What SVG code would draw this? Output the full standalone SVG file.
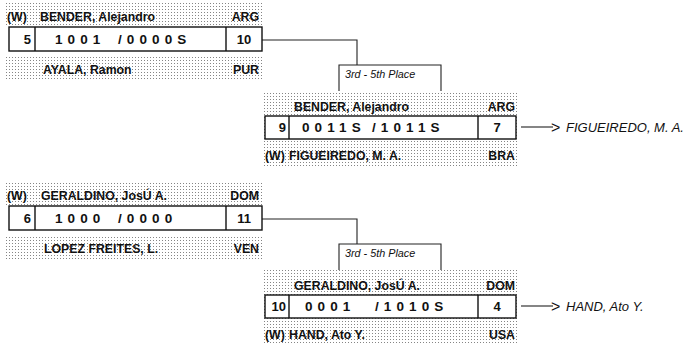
<svg xmlns="http://www.w3.org/2000/svg" width="689" height="345" viewBox="0 0 689 345">
<defs>
<pattern id="dots" width="3" height="3" patternUnits="userSpaceOnUse">
<rect x="0" y="0" width="1" height="1" fill="#858585"/>
</pattern>
</defs>
<style>
.shade{fill:url(#dots);stroke:none}
.box{fill:#fff;stroke:#111;stroke-width:1.4}
.sep{stroke:#111;stroke-width:1.4}
.lbl{font-family:"Liberation Sans",Arial,sans-serif;font-weight:bold;font-size:12.3px;fill:#111}
.num{font-family:"Liberation Sans",Arial,sans-serif;font-weight:bold;font-size:13px;fill:#111}
.score{font-family:"Liberation Sans",Arial,sans-serif;font-weight:bold;font-size:13.5px;fill:#111;letter-spacing:5.1px}
.place{font-family:"Liberation Sans",Arial,sans-serif;font-style:italic;font-size:10.8px;fill:#111}
.res{font-family:"Liberation Sans",Arial,sans-serif;font-style:italic;font-size:13px;fill:#111}
.gt{font-family:"Liberation Sans",Arial,sans-serif;font-size:16px;fill:#111}
.conn{fill:none;stroke:#222;stroke-width:1.1}
.end{text-anchor:end}
.mid{text-anchor:middle}
</style>

<g id="connectors">
<polyline class="conn" points="262,40 357,40 357,65"/>
<polyline class="conn" points="339,91 339,65 441,65 441,91"/>
<polyline class="conn" points="262,219 357,219 357,244"/>
<polyline class="conn" points="339,270 339,244 441,244 441,270"/>
<line class="conn" x1="521" y1="127" x2="553" y2="127"/>
<line class="conn" x1="521" y1="306" x2="553" y2="306"/>
</g>

<g id="match1">
<rect class="shade" x="6" y="3" width="256" height="24"/>
<rect class="shade" x="6" y="56" width="256" height="24"/>
<rect class="box" x="9" y="27" width="253" height="24"/>
<line class="sep" x1="35" y1="27" x2="35" y2="51"/>
<line class="sep" x1="226" y1="27" x2="226" y2="51"/>
<text class="lbl" x="7" y="21">(W)</text>
<text class="lbl" x="40" y="21">BENDER, Alejandro</text>
<text class="lbl end" x="259" y="21">ARG</text>
<text class="num end" x="31" y="44">5</text>
<text class="score" x="55" y="44">1001</text>
<text class="score" x="118" y="44">/0000S</text>
<text class="num mid" x="244" y="44">10</text>
<text class="lbl" x="43" y="74">AYALA, Ramon</text>
<text class="lbl end" x="259" y="74">PUR</text>
</g>

<g id="match2">
<text class="place" x="345" y="78">3rd - 5th Place</text>
<rect class="shade" x="264" y="91" width="253" height="75"/>
<rect class="box" x="265" y="116" width="251" height="23"/>
<line class="sep" x1="289" y1="116" x2="289" y2="139"/>
<line class="sep" x1="478" y1="116" x2="478" y2="139"/>
<text class="lbl" x="294" y="111">BENDER, Alejandro</text>
<text class="lbl end" x="515" y="111">ARG</text>
<text class="num end" x="286" y="132">9</text>
<text class="score" x="302" y="132">0011S</text>
<text class="score" x="372" y="132">/1011S</text>
<text class="num mid" x="497" y="132">7</text>
<text class="lbl" x="265" y="160">(W)</text>
<text class="lbl" x="289" y="160">FIGUEIREDO, M. A.</text>
<text class="lbl end" x="515" y="160">BRA</text>
<text class="gt" x="551" y="132.5">&gt;</text>
<text class="res" x="566" y="131.5">FIGUEIREDO, M. A.</text>
</g>

<g id="match3">
<rect class="shade" x="6" y="182" width="256" height="24"/>
<rect class="shade" x="6" y="235" width="256" height="24"/>
<rect class="box" x="9" y="206" width="253" height="24"/>
<line class="sep" x1="35" y1="206" x2="35" y2="230"/>
<line class="sep" x1="226" y1="206" x2="226" y2="230"/>
<text class="lbl" x="7" y="200">(W)</text>
<text class="lbl" x="41" y="200">GERALDINO, JosÚ A.</text>
<text class="lbl end" x="259" y="200">DOM</text>
<text class="num end" x="31" y="223">6</text>
<text class="score" x="55" y="223">1000</text>
<text class="score" x="118" y="223">/0000</text>
<text class="num mid" x="244" y="223">11</text>
<text class="lbl" x="44" y="253">LOPEZ FREITES, L.</text>
<text class="lbl end" x="259" y="253">VEN</text>
</g>

<g id="match4">
<text class="place" x="345" y="257">3rd - 5th Place</text>
<rect class="shade" x="264" y="270" width="253" height="75"/>
<rect class="box" x="265" y="295" width="251" height="23"/>
<line class="sep" x1="289" y1="295" x2="289" y2="318"/>
<line class="sep" x1="478" y1="295" x2="478" y2="318"/>
<text class="lbl" x="294" y="290">GERALDINO, JosÚ A.</text>
<text class="lbl end" x="515" y="290">DOM</text>
<text class="num end" x="286" y="311">10</text>
<text class="score" x="305" y="311">0001</text>
<text class="score" x="375" y="311">/1010S</text>
<text class="num mid" x="497" y="311">4</text>
<text class="lbl" x="265" y="339">(W)</text>
<text class="lbl" x="289" y="339">HAND, Ato Y.</text>
<text class="lbl end" x="515" y="339">USA</text>
<text class="gt" x="551" y="311.5">&gt;</text>
<text class="res" x="566" y="310.5">HAND, Ato Y.</text>
</g>
</svg>
